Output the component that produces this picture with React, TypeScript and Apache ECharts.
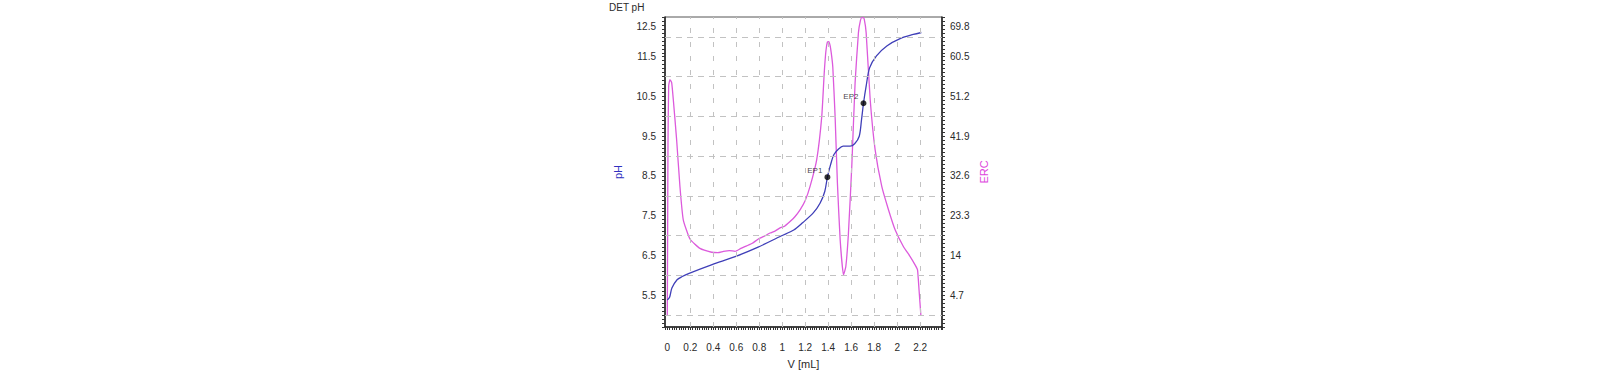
import React, { useEffect, useRef } from "react";
import * as echarts from "echarts";

// ---- data ----
const volumePH = [0, 0.02, 0.04, 0.085, 0.13, 0.19, 0.39, 0.59, 0.79, 0.99, 1.1, 1.18, 1.27, 1.33, 1.37, 1.393, 1.42, 1.45, 1.49, 1.53, 1.59, 1.63, 1.67, 1.69, 1.707, 1.73, 1.76, 1.82, 1.91, 2.03, 2.14, 2.21];
const phValues = [5.38, 5.45, 5.68, 5.89, 5.97, 6.05, 6.27, 6.47, 6.71, 6.99, 7.14, 7.33, 7.57, 7.82, 8.11, 8.47, 8.78, 9.04, 9.18, 9.25, 9.25, 9.31, 9.5, 9.92, 10.33, 10.76, 11.22, 11.52, 11.77, 11.96, 12.06, 12.11];

const volumeERC = [0, 0.003, 0.006, 0.012, 0.023, 0.038, 0.052, 0.081, 0.11, 0.139, 0.197, 0.284, 0.386, 0.44, 0.488, 0.54, 0.589, 0.64, 0.691, 0.74, 0.792, 0.84, 0.894, 0.94, 0.981, 1.02, 1.068, 1.11, 1.155, 1.2, 1.242, 1.3, 1.344, 1.365, 1.38, 1.393, 1.405, 1.417, 1.43, 1.44, 1.46, 1.48, 1.504, 1.533, 1.553, 1.576, 1.605, 1.634, 1.663, 1.68, 1.692, 1.703, 1.713, 1.73, 1.765, 1.808, 1.866, 1.925, 1.983, 2.055, 2.113, 2.157, 2.177, 2.19, 2.206];
const ercValues = [0, 20, 40, 53.6, 55.1, 54.4, 50.5, 41.1, 30.1, 22.3, 17.8, 15.6, 14.7, 14.6, 14.9, 15.1, 14.9, 15.6, 16.2, 16.8, 17.8, 18.4, 19.2, 19.7, 20.4, 20.8, 21.9, 23.0, 24.6, 26.8, 30.1, 36.4, 46.5, 56.5, 61.8, 63.9, 64.0, 63.0, 60.6, 58.0, 46.5, 30.9, 17.6, 9.4, 11.3, 19.2, 34.8, 54.4, 66.1, 68.9, 69.6, 69.6, 69.3, 66.1, 50.5, 38.7, 30.1, 24.6, 19.9, 16.0, 13.7, 11.7, 10.6, 6, 0];

const endpointNames = ["EP1", "EP2"];
const endpointVolumes = [1.393, 1.707];
const endpointPH = [8.47, 10.33];

const xGridValues = [0.2, 0.4, 0.6, 0.8, 1.0, 1.2, 1.4, 1.6, 1.8, 2.0, 2.2];
const yGridValues = [5, 6, 7, 8, 9, 10, 11, 12];

// axis ranges
const X_MIN = -0.02;
const X_MAX = 2.39;
const X_STEP = 0.02;
const PH_MIN = 4.7;
const PH_MAX = 12.5;
const PH_STEP = 0.1;
const ERC_MIN = -2.79;
const ERC_MAX = 69.75;
const ERC_STEP = 0.93;

const BLUE = "#3f3fb8";
const MAGENTA = "#dc5adc";
const FONT = "Liberation Sans, Arial, sans-serif";
const TEXT = "#2a2a2a";

export default function App() {
  const ref = useRef<HTMLDivElement>(null);

  useEffect(() => {
    if (!ref.current) return;
    const chart = echarts.init(ref.current, null, { renderer: "svg" });

    const topRich = {
      top: { padding: [19, 0, 0, 0], fontSize: 10, color: TEXT, fontFamily: FONT },
    };

    const option: any = {
      animation: false,
      textStyle: { fontFamily: FONT },
      title: {
        text: "DET pH",
        left: 609,
        top: 2,
        padding: 0,
        textStyle: { fontSize: 10, fontWeight: "normal", color: TEXT, fontFamily: FONT },
      },
      grid: {
        left: 665,
        right: 658,
        top: 17,
        bottom: 46,
        show: true,
        borderColor: "#555",
        borderWidth: 1,
        containLabel: false,
      },
      xAxis: {
        type: "value",
        min: X_MIN,
        max: X_MAX,
        interval: X_STEP,
        name: "V [mL]",
        nameLocation: "middle",
        nameGap: 31,
        nameTextStyle: { fontSize: 11, color: TEXT, fontFamily: FONT },
        axisLine: { show: true, onZero: false, lineStyle: { color: "#222", width: 1.5 } },
        axisTick: { show: true, length: 3, lineStyle: { color: "#333", width: 1 } },
        splitLine: { show: false },
        axisLabel: {
          margin: 15,
          fontSize: 10,
          color: TEXT,
          showMinLabel: true,
          showMaxLabel: true,
          formatter: (v: number) => {
            const k = Math.round(v / 0.2);
            if (v < -1e-9 || k > 11 || Math.abs(v - k * 0.2) > 1e-6) return "";
            return String(+(k * 0.2).toFixed(1));
          },
        },
      },
      yAxis: [
        {
          type: "value",
          position: "left",
          min: PH_MIN,
          max: PH_MAX,
          interval: PH_STEP,
          name: "pH",
          nameLocation: "middle",
          nameGap: 42,
          nameRotate: 90,
          nameTextStyle: { fontSize: 11, color: "#3030c0", fontFamily: FONT },
          axisLine: { show: true, onZero: false, lineStyle: { color: "#222", width: 1.5 } },
          axisTick: { show: true, length: 3, lineStyle: { color: "#333", width: 1 } },
          splitLine: { show: false },
          axisLabel: {
            margin: 9,
            fontSize: 10,
            color: TEXT,
            showMinLabel: true,
            showMaxLabel: true,
            rich: topRich,
            formatter: (v: number) => {
              const k = Math.round((v - PH_MIN) / PH_STEP);
              if (k % 10 !== 8) return "";
              const s = v.toFixed(1);
              return k >= 78 ? `{top|${s}}` : s;
            },
          },
        },
        {
          type: "value",
          position: "right",
          min: ERC_MIN,
          max: ERC_MAX,
          interval: ERC_STEP,
          name: "ERC",
          nameLocation: "middle",
          nameGap: 36,
          nameRotate: 90,
          nameTextStyle: { fontSize: 11, color: "#dd44dd", fontFamily: FONT },
          axisLine: { show: true, onZero: false, lineStyle: { color: "#222", width: 1.5 } },
          axisTick: { show: true, length: 3, lineStyle: { color: "#333", width: 1 } },
          splitLine: { show: false },
          axisLabel: {
            margin: 8,
            fontSize: 10,
            color: TEXT,
            showMinLabel: true,
            showMaxLabel: true,
            rich: topRich,
            formatter: (v: number) => {
              const k = Math.round((v - ERC_MIN) / ERC_STEP);
              if (k % 10 !== 8) return "";
              const s = String(Math.round(v * 10 + 1e-4) / 10);
              return k >= 78 ? `{top|${s}}` : s;
            },
          },
        },
      ],
      series: [
        {
          name: "grid",
          type: "line",
          data: [],
          silent: true,
          z: 1,
          markLine: {
            silent: true,
            symbol: ["none", "none"],
            label: { show: false },
            animation: false,
            data: [
              ...yGridValues.map((v) => ({
                yAxis: v,
                lineStyle: { color: "#c2c2c2", type: [6, 5], width: 1 },
              })),
              ...xGridValues.map((v) => ({
                xAxis: v,
                lineStyle: { color: "#c2c2c2", type: [5, 9], width: 1 },
              })),
            ],
          },
        },
        {
          name: "ERC",
          type: "line",
          yAxisIndex: 1,
          showSymbol: false,
          symbol: "none",
          smooth: 0.15,
          z: 3,
          lineStyle: { color: MAGENTA, width: 1.3 },
          data: volumeERC.map((v, i) => [v, ercValues[i]]),
        },
        {
          name: "pH",
          type: "line",
          yAxisIndex: 0,
          showSymbol: false,
          symbol: "none",
          smooth: 0.3,
          z: 4,
          lineStyle: { color: BLUE, width: 1.3 },
          data: volumePH.map((v, i) => [v, phValues[i]]),
        },
        {
          name: "EP",
          type: "scatter",
          yAxisIndex: 0,
          z: 5,
          symbolSize: 6,
          itemStyle: { color: "#000" },
          label: {
            show: true,
            formatter: "{b}",
            position: "left",
            distance: 2,
            offset: [0, -7],
            fontSize: 8,
            color: "#111",
            fontFamily: FONT,
          },
          data: endpointVolumes.map((v, i) => ({
            name: endpointNames[i],
            value: [v, endpointPH[i]],
          })),
        },
      ],
    };

    chart.setOption(option);
    return () => chart.dispose();
  }, []);

  return (
    <div
      ref={ref}
      style={{ position: "fixed", left: 0, top: 0, width: 1600, height: 374, background: "#fff" }}
    />
  );
}
